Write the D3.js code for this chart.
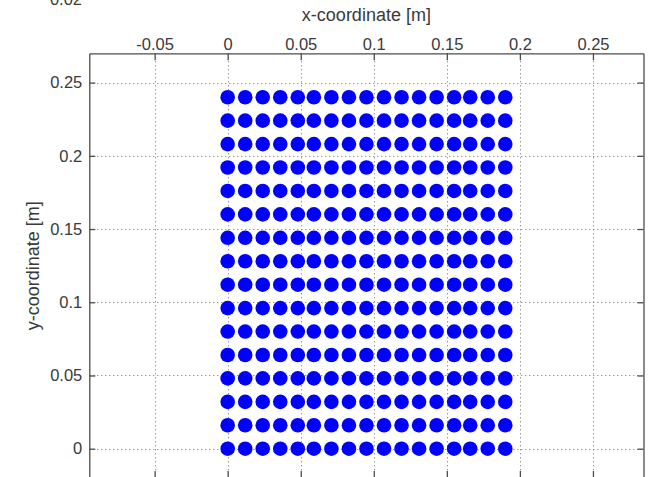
<!DOCTYPE html>
<html>
<head>
<meta charset="utf-8">
<script src="https://cdn.jsdelivr.net/npm/d3@7"></script>
<style>
  html, body { margin: 0; padding: 0; background: #fff; }
  svg { display: block; }
  text { font-family: "Liberation Sans", Arial, Helvetica, sans-serif; fill: #3a3a3a; }
</style>
</head>
<body>
<svg id="chart" width="651" height="477"></svg>
<script>
// Node grid: x positions (17 columns) and y positions (16 rows), in metres
const xNodes = [0, 0.012, 0.024, 0.036, 0.048, 0.059, 0.071, 0.083, 0.095,
                0.107, 0.119, 0.131, 0.143, 0.155, 0.166, 0.178, 0.19];
const yNodes = [0, 0.016, 0.032, 0.048, 0.064, 0.08, 0.096, 0.112, 0.128,
                0.144, 0.16, 0.176, 0.192, 0.208, 0.224, 0.24];

const xTicks = [-0.05, 0, 0.05, 0.1, 0.15, 0.2, 0.25];
const yTicks = [0, 0.05, 0.1, 0.15, 0.2, 0.25];
const xLimits = [-0.0947, 0.2846];
const yLimits = [-0.02, 0.27];

const svg = d3.select("#chart");
const box = { left: 89.3, right: 643.5, top: 53.3, bottom: 478 };

const x = d3.scaleLinear().domain(xLimits).range([box.left, box.right]);
const y = d3.scaleLinear().domain(yLimits).range([box.bottom, box.top]);

const fmt = d => (d === 0 ? "0" : String(d));

// dotted grid
const grid = svg.append("g").attr("stroke", "#6e6e6e").attr("stroke-width", 1)
  .attr("stroke-dasharray", "1,3").attr("fill", "none");
grid.selectAll("line.gx").data(xTicks).join("line").attr("class", "gx")
  .attr("x1", d => Math.round(x(d)) + 0.5).attr("x2", d => Math.round(x(d)) + 0.5)
  .attr("y1", box.top).attr("y2", box.bottom);
grid.selectAll("line.gy").data(yTicks).join("line").attr("class", "gy")
  .attr("y1", d => Math.round(y(d)) + 0.5).attr("y2", d => Math.round(y(d)) + 0.5)
  .attr("x1", box.left).attr("x2", box.right);

// nodes
const nodes = [];
yNodes.forEach(yv => xNodes.forEach(xv => nodes.push({ x: xv, y: yv })));
svg.append("g").selectAll("circle").data(nodes).join("circle")
  .attr("cx", d => x(d.x)).attr("cy", d => y(d.y)).attr("r", 7.3)
  .attr("fill", "#0000ff");

// axes: ticks inward on all four sides
const axisColor = "#4d4d4d";
function styleAxis(g) {
  g.attr("font-family", null).attr("font-size", null);
  g.select(".domain").attr("stroke", axisColor).attr("stroke-width", 1.3);
  g.selectAll(".tick line").attr("stroke", axisColor).attr("stroke-width", 1.3);
  g.selectAll(".tick text").attr("fill", "#3a3a3a").attr("font-size", 16.5);
}
const axTop = svg.append("g").attr("transform", `translate(0,${box.top})`)
  .call(d3.axisTop(x).tickValues(xTicks).tickFormat(fmt).tickSizeInner(-7).tickSizeOuter(0).tickPadding(3.5));
styleAxis(axTop);

const axBottom = svg.append("g").attr("transform", `translate(0,${box.bottom})`)
  .call(d3.axisBottom(x).tickValues(xTicks).tickFormat("").tickSizeInner(-7).tickSizeOuter(0));
styleAxis(axBottom);

const axLeft = svg.append("g").attr("transform", `translate(${box.left},0)`)
  .call(d3.axisLeft(y).tickValues(yTicks).tickFormat(fmt).tickSizeInner(-6).tickSizeOuter(0).tickPadding(7));
styleAxis(axLeft);

const axRight = svg.append("g").attr("transform", `translate(${box.right},0)`)
  .call(d3.axisRight(y).tickValues(yTicks).tickFormat("").tickSizeInner(-6).tickSizeOuter(0));
styleAxis(axRight);

// axis labels
svg.append("text").attr("x", (box.left + box.right) / 2).attr("y", 21)
  .attr("text-anchor", "middle").attr("font-size", 18).text("x-coordinate [m]");
svg.append("text").attr("transform", `translate(39,${(box.top + box.bottom) / 2}) rotate(-90)`)
  .attr("text-anchor", "middle").attr("font-size", 18).text("y-coordinate [m]");

// tick label of the panel above, clipped by the page edge
svg.append("text").attr("x", 82).attr("y", 5).attr("text-anchor", "end")
  .attr("font-size", 16.5).text("0.02");
</script>
</body>
</html>
